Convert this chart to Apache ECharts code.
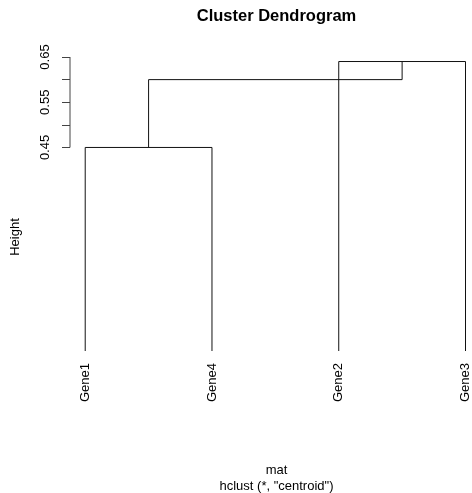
<!DOCTYPE html>
<html>
<head>
<meta charset="utf-8">
<script src="https://cdn.jsdelivr.net/npm/echarts@6/dist/echarts.min.js"></script>
<style>html,body{margin:0;padding:0;background:#fff;}#c{width:472px;height:493px;}</style>
</head>
<body>
<div id="c"></div>
<script>
// ---- data ----
const leaves = ['Gene1', 'Gene2', 'Gene3', 'Gene4'];
const mergePairs = [[-1, -4], [-2, -3], [1, 2]];   // R hclust merge matrix
const mergeHeights = [0.45, 0.64, 0.60];           // centroid heights (inversion)
const leafOrder = [1, 4, 2, 3];                    // plotting order
const leafBase = 0;
const yTicks = [0.45, 0.50, 0.55, 0.60, 0.65];
const yLabels = [0.45, 0.55, 0.65];

// ---- build dendrogram segments ----
const leafX = {};
leafOrder.forEach((l, i) => { leafX[l] = i + 1; });
const nodeX = [], nodeH = [];
function childInfo(c) {
  if (c < 0) return { x: leafX[-c], h: leafBase };
  return { x: nodeX[c - 1], h: nodeH[c - 1] };
}
const links = [];
mergePairs.forEach((pair, i) => {
  const a = childInfo(pair[0]), b = childInfo(pair[1]);
  const h = mergeHeights[i];
  const L = a.x <= b.x ? a : b, R = a.x <= b.x ? b : a;
  links.push({ coords: [[L.x, L.h], [L.x, h], [R.x, h], [R.x, R.h]] });
  nodeX.push((a.x + b.x) / 2);
  nodeH.push(h);
});
const n = leaves.length;
const xMin = 1 - 0.04 * (n - 1);
// plot region is wider than the (cropped) picture: show only the visible part
const unitPx = 127.67, gridLeft = 70, viewW = 472;
const xMax = xMin + (viewW - gridLeft) / unitPx;
// y axis line only spanning pretty(range(height))
links.push({ coords: [[xMin, yTicks[0]], [xMin, yTicks[yTicks.length - 1]]], lineStyle: { color: '#444' } });

const font = 'Liberation Sans, Arial, sans-serif';
const chart = echarts.init(document.getElementById('c'), null, { renderer: 'canvas' });
chart.setOption({
  animation: false,
  backgroundColor: '#fff',
  grid: { left: gridLeft, top: 57, right: 0, height: 294 },
  xAxis: {
    type: 'value', min: xMin, max: xMax,
    axisLine: { show: false }, axisTick: { show: false }, splitLine: { show: false },
    axisLabel: {
      customValues: leafOrder.map((l, i) => i + 1),
      formatter: v => leaves[leafOrder[Math.round(v) - 1] - 1],
      rotate: 90, margin: 12, fontSize: 13, color: '#000', fontFamily: font
    }
  },
  yAxis: {
    type: 'value', min: leafBase, max: yTicks[yTicks.length - 1],
    axisLine: { show: false }, splitLine: { show: false },
    axisTick: { show: true, customValues: yTicks, length: 8, lineStyle: { color: '#444', width: 1 } },
    axisLabel: {
      customValues: yLabels, formatter: v => v.toFixed(2),
      rotate: 90, margin: 18, fontSize: 13, color: '#000', fontFamily: font
    }
  },
  series: [{
    type: 'lines', coordinateSystem: 'cartesian2d', polyline: true,
    silent: true, clip: false,
    lineStyle: { color: '#111', width: 1, opacity: 1 },
    data: links
  }],
  graphic: [
    { type: 'text', x: 276.5, y: 16, style: { text: 'Cluster Dendrogram', font: 'bold 16.5px ' + font, fill: '#000', align: 'center', verticalAlign: 'middle' } },
    { type: 'text', x: 15, y: 237, rotation: Math.PI / 2, style: { text: 'Height', font: '13px ' + font, fill: '#000', align: 'center', verticalAlign: 'middle' } },
    { type: 'text', x: 276.5, y: 470, style: { text: 'mat', font: '13px ' + font, fill: '#000', align: 'center', verticalAlign: 'middle' } },
    { type: 'text', x: 276.5, y: 486, style: { text: 'hclust (*, "centroid")', font: '13px ' + font, fill: '#000', align: 'center', verticalAlign: 'middle' } }
  ]
});
</script>
</body>
</html>
